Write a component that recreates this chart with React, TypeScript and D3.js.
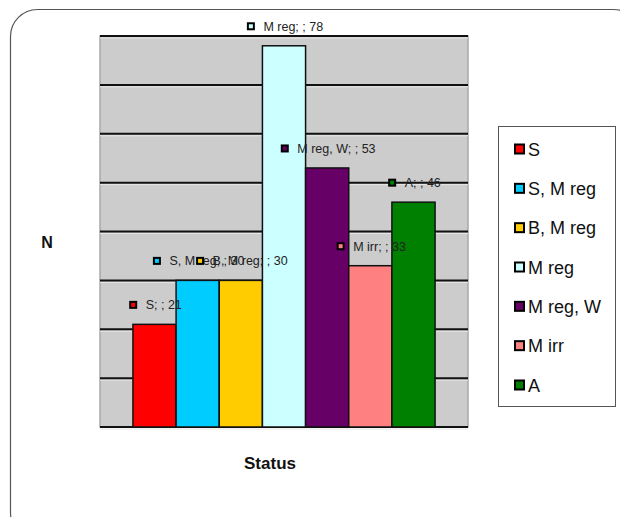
import React, { useEffect, useRef } from "react";
import * as d3 from "d3";

const categories = ["Status"];
const seriesNames = ["S", "S, M reg", "B, M reg", "M reg", "M reg, W", "M irr", "A"];
const seriesValues = [21, 30, 30, 78, 53, 33, 46];
const seriesColors = ["#FF0000", "#00CCFF", "#FFCC00", "#CCFFFF", "#660066", "#FF8080", "#008000"];
const gridTicks = [0, 10, 20, 30, 40, 50, 60, 70, 80];
const yTitle = "N";
const xTitle = "Status";

const W = 620;
const H = 517;
const FONT = "Arial, 'Liberation Sans', Helvetica, sans-serif";

export default function App() {
  const ref = useRef<SVGSVGElement | null>(null);

  useEffect(() => {
    const svg = d3.select(ref.current);
    svg.selectAll("*").remove();

    // outer rounded frame
    svg.append("rect")
      .attr("x", 10.5).attr("y", 9.5)
      .attr("width", 630).attr("height", 530)
      .attr("rx", 27).attr("ry", 27)
      .attr("fill", "#fff").attr("stroke", "#555").attr("stroke-width", 1.2);

    const plot = { left: 100, right: 468, top: 36, bottom: 427 };

    const y = d3.scaleLinear().domain([0, 80]).range([plot.bottom, plot.top]);
    const x0 = d3.scaleBand<string>().domain(categories).range([plot.left, plot.right]).paddingInner(0).paddingOuter(0.109);
    const x1 = d3.scaleBand<string>().domain(seriesNames).range([0, x0.bandwidth()]).padding(0);

    // plot area background
    svg.append("rect")
      .attr("x", plot.left).attr("y", plot.top)
      .attr("width", plot.right - plot.left).attr("height", plot.bottom - plot.top)
      .attr("fill", "#cccccc").attr("stroke", "#a8a8a8").attr("stroke-width", 1.5);

    // gridlines
    const g = svg.append("g");
    g.selectAll("line.shade").data(gridTicks).join("line")
      .attr("class", "shade")
      .attr("x1", plot.left).attr("x2", plot.right)
      .attr("y1", (d) => y(d) + 2).attr("y2", (d) => y(d) + 2)
      .attr("stroke", "#e6e6e6").attr("stroke-width", 1);
    g.selectAll("line.grid").data(gridTicks).join("line")
      .attr("class", "grid")
      .attr("x1", plot.left).attr("x2", plot.right)
      .attr("y1", (d) => y(d)).attr("y2", (d) => y(d))
      .attr("stroke", "#111").attr("stroke-width", 2);

    const data = seriesNames.map((name, i) => ({ name, value: seriesValues[i], color: seriesColors[i] }));
    const bx = (name: string) => (x0(categories[0]) as number) + (x1(name) as number);

    // bars
    svg.append("g").selectAll("rect").data(data).join("rect")
      .attr("x", (d) => bx(d.name))
      .attr("y", (d) => y(d.value))
      .attr("width", x1.bandwidth())
      .attr("height", (d) => y(0) - y(d.value))
      .attr("fill", (d) => d.color)
      .attr("stroke", "#111").attr("stroke-width", 1.5);

    // data labels
    const lg = svg.append("g");
    data.forEach((d) => {
      const cx = bx(d.name) + x1.bandwidth() / 2;
      const cy = y(d.value) - 19.5;
      const grp = lg.append("g");
      const t = grp.append("text")
        .attr("x", 0).attr("y", cy + 4.6)
        .attr("font-family", FONT).attr("font-size", 12.5)
        .attr("fill", "#222")
        .text(`${d.name}; ; ${d.value}`);
      const tw = (t.node() as SVGTextElement).getComputedTextLength();
      const mk = 8, gap = 8.5;
      const total = mk + gap + tw;
      const left = cx - total / 2 + 1;
      grp.append("rect")
        .attr("x", left + 1).attr("y", cy - mk / 2 + 1)
        .attr("width", mk - 2).attr("height", mk - 2)
        .attr("fill", d.color).attr("stroke", "#000").attr("stroke-width", 2);
      t.attr("x", left + mk + gap);
    });

    // axis titles
    svg.append("text")
      .attr("x", 47).attr("y", 248)
      .attr("text-anchor", "middle")
      .attr("font-family", FONT).attr("font-size", 16).attr("font-weight", "bold")
      .attr("fill", "#111")
      .text(yTitle);
    svg.append("text")
      .attr("x", 270).attr("y", 469)
      .attr("text-anchor", "middle")
      .attr("font-family", FONT).attr("font-size", 17).attr("font-weight", "bold")
      .attr("fill", "#111")
      .text(xTitle);

    // legend
    const legend = { x: 498.5, y: 126.5, w: 117, h: 280 };
    svg.append("rect")
      .attr("x", legend.x).attr("y", legend.y)
      .attr("width", legend.w).attr("height", legend.h)
      .attr("fill", "#fff").attr("stroke", "#555").attr("stroke-width", 1);
    const ly = d3.scalePoint<string>().domain(seriesNames).range([149, 385]);
    const li = svg.append("g").selectAll("g").data(data).join("g")
      .attr("transform", (d) => `translate(0,${ly(d.name)})`);
    li.append("rect")
      .attr("x", 515).attr("y", -4.5)
      .attr("width", 9).attr("height", 9)
      .attr("fill", (d) => d.color).attr("stroke", "#000").attr("stroke-width", 2);
    li.append("text")
      .attr("x", 528).attr("y", 6.5)
      .attr("font-family", FONT).attr("font-size", 18)
      .attr("fill", "#111")
      .text((d) => d.name);
  }, []);

  return (
    <svg
      ref={ref}
      width={W}
      height={H}
      style={{ position: "absolute", left: 0, top: 0, background: "#fff" }}
    />
  );
}
